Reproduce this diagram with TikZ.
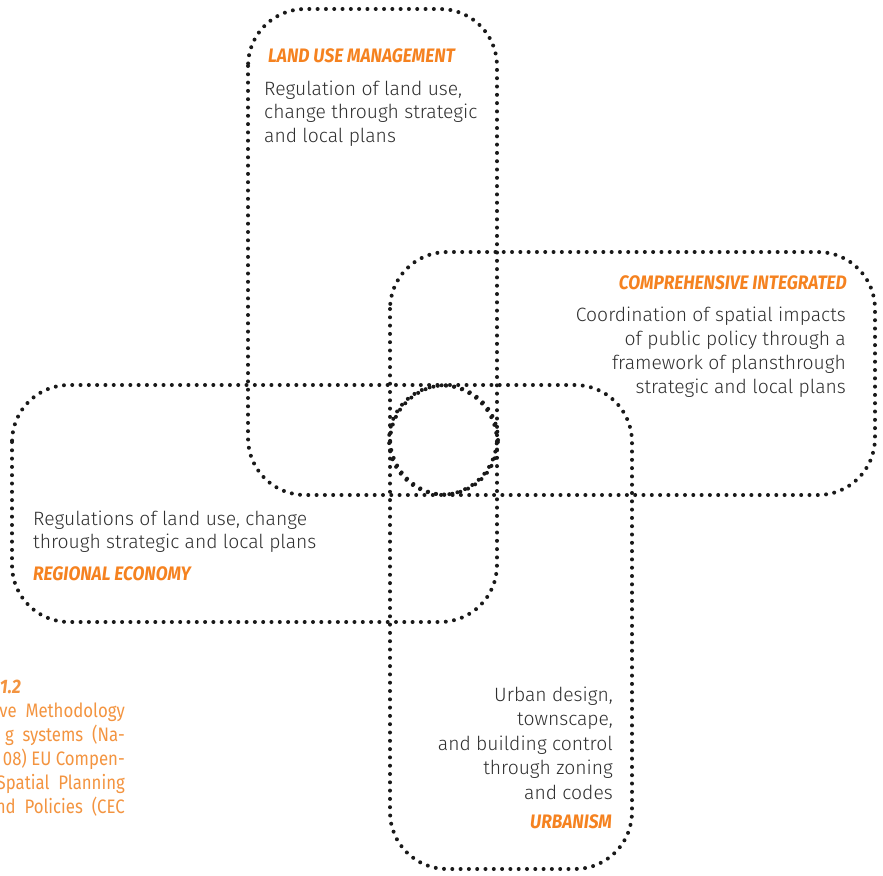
\documentclass[tikz,border=0pt]{standalone}
\usepackage{fontspec}
\setmainfont{Fira Sans Light}
\newfontfamily\titlefont{Fira Sans Bold Italic}[FakeStretch=0.89]
\newfontfamily\capfont{Fira Sans}[FakeStretch=0.86]
\definecolor{ora}{HTML}{F58220}
\definecolor{capora}{HTML}{F39440}
\definecolor{txt}{HTML}{2E2E2E}
\tikzset{
  dotline/.style={line width=4pt, line cap=round, dash pattern=on 0pt off 8.3pt, draw=black!90},
  bodyL/.style={inner sep=0pt, anchor=base west, text=txt, font=\fontsize{19.3}{23}\selectfont},
  bodyR/.style={inner sep=0pt, anchor=base east, text=txt, font=\fontsize{19.3}{23}\selectfont},
  titleL/.style={inner sep=0pt, anchor=base west, text=ora, font=\titlefont\fontsize{19.5}{23}\selectfont},
  titleR/.style={inner sep=0pt, anchor=base east, text=ora, font=\titlefont\fontsize{19.5}{23}\selectfont},
  capline/.style={inner sep=0pt, anchor=base east, text=capora, font=\capfont\fontsize{19.5}{23}\selectfont},
}
\begin{document}
\begin{tikzpicture}[x=1pt,y=-1pt]
\useasboundingbox (0,0) rectangle (883,875);
% dotted shapes
\draw[dotline, rounded corners=57pt] (248,9) rectangle (497,495);
\draw[dotline, rounded corners=57pt] (390,252) rectangle (875,495);
\draw[dotline, rounded corners=57pt] (12,385) rectangle (497,622);
\draw[dotline, rounded corners=57pt] (390,385) rectangle (632,869);
\draw[dotline] (443.5,440) circle[radius=54.5pt];
% land use management
\node[titleL] (lumt) at (268,63) {LAND USE MANAGEMENT};
\node[bodyL] (lum1) at (264,95) {Regulation of land use,};
\node[bodyL] (lum2) at (264,118.5) {change through strategic};
\node[bodyL] (lum3) at (264,142) {and local plans};
% comprehensive integrated
\node[titleR] (cit) at (847,289) {COMPREHENSIVE INTEGRATED};
\node[bodyR] (ci1) at (846,321) {Coordination of spatial impacts};
\node[bodyR] (ci2) at (846,345) {of public policy through a};
\node[bodyR] (ci3) at (846,369) {framework of plansthrough};
\node[bodyR] (ci4) at (846,393) {strategic and local plans};
% regional economy
\node[bodyL] (re1) at (33,525) {Regulations of land use, change};
\node[bodyL] (re2) at (33,548.5) {through strategic and local plans};
\node[titleL] (ret) at (33,580) {REGIONAL ECONOMY};
% urbanism
\node[bodyR] (ur1) at (613,701) {Urban design,};
\node[bodyR] (ur2) at (613,725.5) {townscape,};
\node[bodyR] (ur3) at (613,750) {and building control};
\node[bodyR] (ur4) at (613,774.5) {through zoning};
\node[bodyR] (ur5) at (613,799) {and codes};
\node[titleR] (urt) at (612,828) {URBANISM};
% caption (cut at the left edge)
\begin{scope}
\clip (0,0) rectangle (883,875);
\node[inner sep=0pt, anchor=base east, text=capora, font=\titlefont\fontsize{19.5}{23}\selectfont] (capt) at (21,693) {1.2};
\node[capline] (cap1) at (125,717) {ve\ \ Methodology};
\node[capline] (cap2) at (125,741) {g\ \ systems\ \ (Na-};
\node[capline] (cap3) at (125,765) {08) EU Compen-};
\node[capline] (cap4) at (125,789) {Spatial\ \ Planning};
\node[capline] (cap5) at (125,813) {nd\ \ Policies\ \ (CEC};
\end{scope}
\end{tikzpicture}
\end{document}
